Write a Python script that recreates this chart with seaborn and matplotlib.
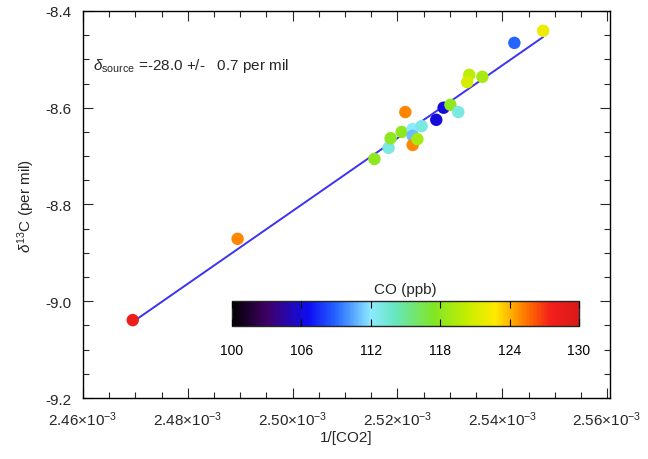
import numpy as np
import pandas as pd
import seaborn as sns
from matplotlib import pyplot as plt
from matplotlib.colors import LinearSegmentedColormap, Normalize
from matplotlib.cm import ScalarMappable
from matplotlib.ticker import MultipleLocator

# inverse CO2 (1/ppm), delta13C (per mil), CO (ppb)
inv_co2 = [2.4695e-3, 2.4895e-3, 2.5156e-3, 2.5183e-3, 2.5187e-3, 2.5208e-3, 2.5229e-3,
           2.5229e-3, 2.5229e-3, 2.5238e-3, 2.5246e-3, 2.5215e-3, 2.5274e-3, 2.5288e-3,
           2.5301e-3, 2.5316e-3, 2.5337e-3, 2.5333e-3, 2.5362e-3, 2.5423e-3, 2.5478e-3]
d13c = [-9.039, -8.871, -8.706, -8.683, -8.663, -8.650, -8.644,
        -8.658, -8.677, -8.665, -8.638, -8.609, -8.625, -8.600,
        -8.594, -8.609, -8.532, -8.547, -8.536, -8.466, -8.441]
co_ppb = [128, 125, 118, 113, 118, 118, 112,
          111, 125, 119, 113, 125, 106, 106,
          118, 113, 120, 121, 119, 109, 122]

x_ticks = [2.46e-3, 2.48e-3, 2.50e-3, 2.52e-3, 2.54e-3, 2.56e-3]
x_labels = ["2.46$\\times$10$^{-3}$", "2.48$\\times$10$^{-3}$", "2.50$\\times$10$^{-3}$",
            "2.52$\\times$10$^{-3}$", "2.54$\\times$10$^{-3}$", "2.56$\\times$10$^{-3}$"]
y_ticks = [-8.4, -8.6, -8.8, -9.0, -9.2]
cb_ticks = [100, 106, 112, 118, 124, 130]

df = pd.DataFrame({"x": inv_co2, "y": d13c, "co": co_ppb})

# IDL-like rainbow colour table
rainbow = LinearSegmentedColormap.from_list("idl_rainbow", [
    (0.00, (0.0, 0.0, 0.0)),
    (0.10, (0.25, 0.0, 0.40)),
    (0.22, (0.05, 0.05, 0.95)),
    (0.30, (0.15, 0.40, 1.0)),
    (0.40, (0.55, 0.92, 1.0)),
    (0.47, (0.40, 0.90, 0.75)),
    (0.58, (0.50, 0.90, 0.15)),
    (0.68, (0.78, 0.93, 0.0)),
    (0.76, (1.0, 0.92, 0.0)),
    (0.85, (1.0, 0.45, 0.0)),
    (0.92, (0.95, 0.12, 0.10)),
    (1.00, (0.85, 0.10, 0.10)),
])
norm = Normalize(100, 130)

sns.set_style("ticks")
plt.rcParams["font.family"] = ["Liberation Sans", "DejaVu Sans"]
plt.rcParams["mathtext.fontset"] = "custom"
plt.rcParams["mathtext.rm"] = "Liberation Sans"
plt.rcParams["mathtext.it"] = "Liberation Sans:italic"

fig = plt.figure(figsize=(6.48, 4.6), dpi=100)
ax = fig.add_axes([0.128, 0.1326, 0.813, 0.8414])

sns.regplot(data=df, x="x", y="y", ax=ax, scatter=False, ci=None, truncate=True,
            line_kws={"color": "#3a33f0", "lw": 1.4})
sns.scatterplot(data=df, x="x", y="y", hue="co", palette=rainbow, hue_norm=norm,
                s=80, linewidth=0, legend=False, ax=ax, zorder=3)

ax.set_xlim(2.46e-3, 2.5605e-3)
ax.set_ylim(-9.2, -8.4)
ax.set_xticks(x_ticks)
ax.set_xticklabels(x_labels)
ax.set_yticks(y_ticks)
ax.set_yticklabels([f"{v:.1f}" for v in y_ticks])
ax.xaxis.set_minor_locator(MultipleLocator(0.005e-3))
ax.yaxis.set_minor_locator(MultipleLocator(0.05))
ax.tick_params(which="both", direction="in", top=True, right=True, labelsize=11, width=0.8)
ax.tick_params(which="major", length=7, pad=8)
ax.tick_params(which="minor", length=4)
for sp in ax.spines.values():
    sp.set_linewidth(1.0)
    sp.set_color("black")

ax.set_xlabel("1/[CO2]", fontsize=11, labelpad=2)
ax.set_ylabel("$\\delta^{13}$C (per mil)", fontsize=11, labelpad=6)

ax.text(0.02, 0.86, "$\\delta_{\\rm source}$ =-28.0 +/-   0.7 per mil", transform=ax.transAxes,
        fontsize=11, va="center", ha="left")

cax = fig.add_axes([0.358, 0.289, 0.5355, 0.0543])
cb = fig.colorbar(ScalarMappable(norm=norm, cmap=rainbow), cax=cax, orientation="horizontal")
cb.set_ticks(cb_ticks)
cb.outline.set_linewidth(1.0)
cax.set_axisbelow(False)
cax.tick_params(direction="in", top=True, bottom=True, length=5, width=0.8,
                labelsize=10, pad=12, colors="black")
cax.set_title("CO (ppb)", fontsize=11, pad=6)

fig.savefig("out.png", dpi=100)
